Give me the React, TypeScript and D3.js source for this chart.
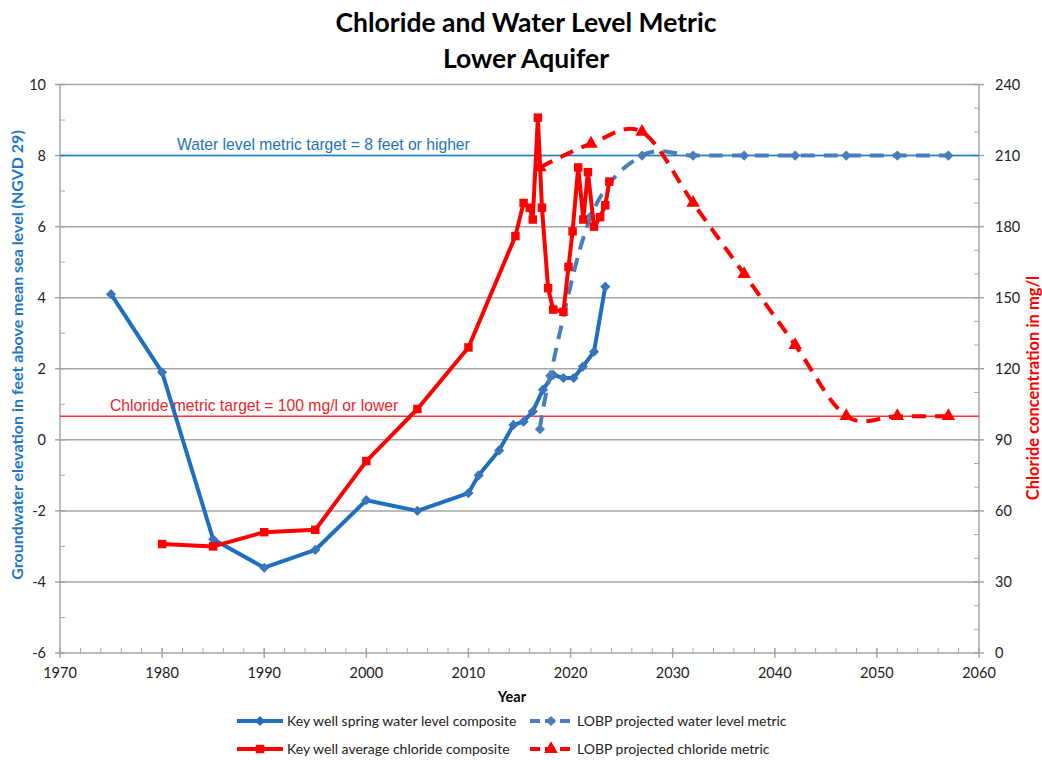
import * as d3 from "d3";

// water level series (feet, NGVD 29)
const wlYears = [1975, 1980, 1985, 1990, 1995, 2000, 2005, 2010, 2011, 2013, 2014.4, 2015.4, 2016.3, 2017.3, 2018.3, 2019.3, 2020.3, 2021.2, 2022.3, 2023.4];
const wlValues = [4.1, 1.9, -2.8, -3.6, -3.1, -1.7, -2.0, -1.5, -1.0, -0.3, 0.42, 0.51, 0.8, 1.41, 1.83, 1.74, 1.74, 2.06, 2.48, 4.31];

const wlProjYears = [2017, 2018, 2022, 2027, 2032, 2037, 2042, 2047, 2052, 2057];
const wlProjValues = [0.3, 1.8, 6.3, 8, 8, 8, 8, 8, 8, 8];

// chloride series (mg/l)
const clYears = [1980, 1985, 1990, 1995, 2000, 2005, 2010, 2014.6, 2015.4, 2016.0, 2016.3, 2016.8, 2017.2, 2017.8, 2018.3, 2019.3, 2019.8, 2020.2, 2020.75, 2021.25, 2021.7, 2022.3, 2022.9, 2023.4, 2023.8];
const clValues = [46, 45, 51, 52, 81, 103, 129, 176, 190, 188, 183, 226, 188, 154, 145, 144, 163, 178, 205, 183, 203, 180, 184, 189, 199];

const clProjYears = [2017, 2022, 2027, 2032, 2037, 2042, 2047, 2052, 2057];
const clProjValues = [205, 215, 220, 190, 160, 130, 100, 100, 100];

const waterTarget = 8;
const chlorideTarget = 100;

const xTicks = d3.range(1970, 2061, 10);
const xMinor = d3.range(1970, 2061, 2);
const leftTicks = d3.range(-6, 11, 2);
const leftMinor = d3.range(-6, 11, 1);
const rightTicks = d3.range(0, 241, 30);
const rightMinor = d3.range(0, 241, 10);

const legendItems = [
  { label: "Key well spring water level composite", color: "#1F6FBF", dash: null, marker: "diamond" },
  { label: "LOBP projected water level metric", color: "#4A7EBB", dash: "10,5", marker: "diamond" },
  { label: "Key well average chloride composite", color: "#FF0000", dash: null, marker: "square" },
  { label: "LOBP projected chloride metric", color: "#FF0000", dash: "10,5", marker: "triangle" },
];

const W = 1042;
const H = 760;
const left = 60, right = 979, top = 84.5, bottom = 653;
const font = "Lato, 'Open Sans', sans-serif";
const gridColor = "#A6A6A6";

const diamond = d3.symbol(d3.symbolSquare, 52)();
const square = d3.symbol(d3.symbolSquare, 72)();
const triangle = d3.symbol(d3.symbolTriangle, 80)();
const shapes: Record<string, string | null> = { diamond, square, triangle };
const rot: Record<string, number> = { diamond: 45, square: 0, triangle: 0 };

export default function App() {
  const x = d3.scaleLinear([1970, 2060], [left, right]);
  const yL = d3.scaleLinear([-6, 10], [bottom, top]);
  const yR = d3.scaleLinear([0, 240], [bottom, top]);

  const straight = d3.line<[number, number]>().x(d => d[0]).y(d => d[1]);
  const smooth = d3.line<[number, number]>().x(d => d[0]).y(d => d[1]).curve(d3.curveCardinal.tension(0));

  const wlPts = wlYears.map((yr, i) => [x(yr), yL(wlValues[i])] as [number, number]);
  const wlProjPts = wlProjYears.map((yr, i) => [x(yr), yL(wlProjValues[i])] as [number, number]);
  const clPts = clYears.map((yr, i) => [x(yr), yR(clValues[i])] as [number, number]);
  const clProjPts = clProjYears.map((yr, i) => [x(yr), yR(clProjValues[i])] as [number, number]);

  return (
    <svg width={W} height={H} style={{ position: "absolute", left: 0, top: 0, background: "#fff" }} fontFamily={font}>
      {/* title */}
      <text x={526} y={32} textAnchor="middle" fontSize={26.5} fontWeight="bold">Chloride and Water Level Metric</text>
      <text x={526} y={68} textAnchor="middle" fontSize={26.5} fontWeight="bold">Lower Aquifer</text>

      {/* gridlines */}
      {leftTicks.map(t => (
        <line key={"g" + t} x1={left} x2={right} y1={yL(t)} y2={yL(t)} stroke={gridColor} strokeWidth={1.5} />
      ))}

      {/* axes */}
      <line x1={left} x2={left} y1={top} y2={bottom} stroke={gridColor} strokeWidth={1.5} />
      <line x1={right} x2={right} y1={top} y2={bottom} stroke={gridColor} strokeWidth={1.5} />
      {leftMinor.map(t => (
        <line key={"lm" + t} x1={left} x2={left + 5} y1={yL(t)} y2={yL(t)} stroke={gridColor} strokeWidth={1} />
      ))}
      {leftTicks.map(t => (
        <g key={"lt" + t}>
          <line x1={left - 5} x2={left + 5} y1={yL(t)} y2={yL(t)} stroke={gridColor} strokeWidth={1.5} />
          <text x={left - 14} y={yL(t) + 5} textAnchor="end" fontSize={14.5} fill="#222">{t}</text>
        </g>
      ))}
      {rightMinor.map(t => (
        <line key={"rm" + t} x1={right - 5} x2={right} y1={yR(t)} y2={yR(t)} stroke={gridColor} strokeWidth={1} />
      ))}
      {rightTicks.map(t => (
        <g key={"rt" + t}>
          <line x1={right - 5} x2={right + 5} y1={yR(t)} y2={yR(t)} stroke={gridColor} strokeWidth={1.5} />
          <text x={right + 16} y={yR(t) + 5} textAnchor="start" fontSize={14.5} fill="#222">{t}</text>
        </g>
      ))}
      {xMinor.map(t => (
        <line key={"xm" + t} x1={x(t)} x2={x(t)} y1={bottom - 5} y2={bottom} stroke={gridColor} strokeWidth={1} />
      ))}
      {xTicks.map(t => (
        <g key={"xt" + t}>
          <line x1={x(t)} x2={x(t)} y1={bottom - 5} y2={bottom + 5} stroke={gridColor} strokeWidth={1.5} />
          <text x={x(t)} y={bottom + 25} textAnchor="middle" fontSize={14.5} fill="#222">{t}</text>
        </g>
      ))}

      {/* axis titles */}
      <text x={512} y={702} textAnchor="middle" fontSize={14.5} fontWeight="bold">Year</text>
      <text transform={`translate(23, 355) rotate(-90)`} textAnchor="middle" fontSize={16} fontWeight="bold" fill="#1F77C4">
        Groundwater elevation in feet above mean sea level (NGVD 29)
      </text>
      <text transform={`translate(1039, 388) rotate(-90)`} textAnchor="middle" fontSize={16.5} fontWeight="bold" fill="#FF0000">
        Chloride concentration in mg/l
      </text>

      {/* target lines */}
      <line x1={left} x2={right} y1={yL(waterTarget)} y2={yL(waterTarget)} stroke="#1F82C4" strokeWidth={1.5} />
      <text x={177} y={yL(waterTarget) - 6} fontFamily="'Liberation Sans', Arial, sans-serif" fontSize={15.7} fill="#2473B7">
        Water level metric target = 8 feet or higher
      </text>
      <line x1={left} x2={right} y1={yR(chlorideTarget)} y2={yR(chlorideTarget)} stroke="#FF3333" strokeWidth={1.5} />
      <text x={110} y={yR(chlorideTarget) - 5} fontFamily="'Liberation Sans', Arial, sans-serif" fontSize={15.7} fill="#E8262B">
        Chloride metric target = 100 mg/l or lower
      </text>

      {/* water level series */}
      <path d={straight(wlPts) ?? ""} fill="none" stroke="#1F6FBF" strokeWidth={4} strokeLinejoin="round" />
      {wlPts.map((p, i) => (
        <path key={"wm" + i} d={diamond ?? ""} transform={`translate(${p[0]},${p[1]}) rotate(45)`} fill="#3A73B8" />
      ))}
      <path d={smooth(wlProjPts) ?? ""} fill="none" stroke="#4A7EBB" strokeWidth={4} strokeDasharray="14,9" />
      {wlProjPts.map((p, i) => (
        <path key={"wp" + i} d={diamond ?? ""} transform={`translate(${p[0]},${p[1]}) rotate(45)`} fill="#4A7EBB" />
      ))}

      {/* chloride series */}
      <path d={straight(clPts) ?? ""} fill="none" stroke="#FF0000" strokeWidth={4} strokeLinejoin="round" />
      {clPts.map((p, i) => (
        <path key={"cm" + i} d={square ?? ""} transform={`translate(${p[0]},${p[1]})`} fill="#FF0000" />
      ))}
      <path d={smooth(clProjPts) ?? ""} fill="none" stroke="#FF0000" strokeWidth={4} strokeDasharray="14,9" />
      {clProjPts.map((p, i) => (
        <path key={"cp" + i} d={triangle ?? ""} transform={`translate(${p[0]},${p[1]})`} fill="#FF0000" />
      ))}

      {/* legend */}
      {legendItems.map((item, i) => {
        const col = i % 2;
        const row = Math.floor(i / 2);
        const ly = 721 + row * 28;
        const x0 = col === 0 ? 237 : 530;
        const x1 = col === 0 ? 283 : 572;
        const tx = col === 0 ? 287 : 577;
        return (
          <g key={"lg" + i}>
            <line x1={x0} x2={x1} y1={ly} y2={ly} stroke={item.color} strokeWidth={4} strokeDasharray={item.dash ?? undefined} />
            <path d={shapes[item.marker] ?? ""} transform={`translate(${(x0 + x1) / 2},${ly}) rotate(${rot[item.marker]})`} fill={item.color} />
            <text x={tx} y={ly + 5} fontSize={14} fill="#222">{item.label}</text>
          </g>
        );
      })}
    </svg>
  );
}
